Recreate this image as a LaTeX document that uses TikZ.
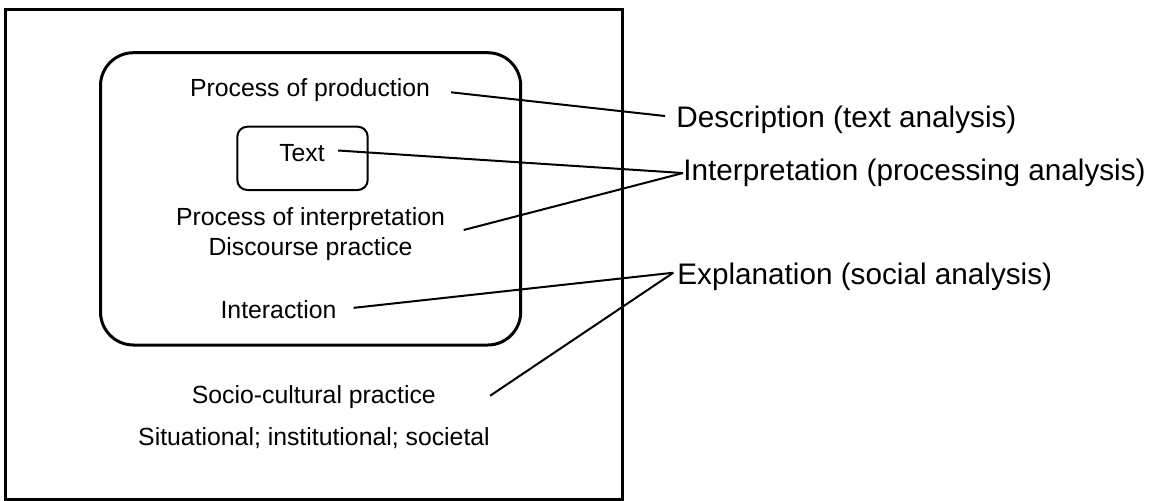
\documentclass[tikz,border=0pt]{standalone}
\usepackage{fontspec}
\setmainfont{Liberation Sans}
\usepackage{tikz}
\tikzstyle{caja} = [line width=1.5pt]
\tikzstyle{cajita} = [line width=1pt]
\tikzstyle{linea} = [line width=1pt]
\tikzstyle{texto} = [inner sep=0pt, anchor=base, font=\fontsize{12.4}{14.9}\selectfont]
\tikzstyle{nivel} = [inner sep=0pt, anchor=base west, font=\fontsize{14.85}{17.8}\selectfont]
\begin{document}
\begin{tikzpicture}[x=0.5pt,y=-0.5pt]
		\useasboundingbox (0,0) rectangle (1157,500);
		% marcos
		\draw[caja] (5.5,9) rectangle (622.5,499);
		\draw[caja,rounded corners=16.5pt] (100.5,52.7) rectangle (520.7,345);
		\draw[cajita,rounded corners=5pt] (237.3,126.7) rectangle (367.7,190);
		% textos de los marcos
		\node[texto] (prod) at (310,96.7) {Process of production};
		\node[texto] (txt) at (302,161.7) {Text};
		\node[texto] (procint) at (310.5,225) {Process of interpretation};
		\node[texto] (disc) at (310.5,255) {Discourse practice};
		\node[texto] (inter) at (278.5,318.3) {Interaction};
		\node[texto] (socio) at (313.8,403.3) {Socio-cultural practice};
		\node[texto] (situ) at (314,445) {Situational; institutional; societal};
		% niveles de analisis
		\foreach \Nom/\Xc/\Yc/\Texto in 
		{desc/676/127.3/Description (text analysis),
		 interp/683/180.7/Interpretation (processing analysis),
		 expl/677/284/Explanation (social analysis)}
		{
			\node[nivel] (\Nom) at (\Xc,\Yc) {\Texto};
		}
		% lineas
		\draw[linea] ([xshift=10.35pt,yshift=-1pt]prod.east) -- ([xshift=-5.5pt,yshift=1.8pt]desc.west);
		\draw[linea] ([xshift=6.5pt,yshift=1.4pt]txt.east) -- (interp.west);
		\draw[linea] ([xshift=9.2pt,yshift=-5.7pt]procint.east) -- (interp.west);
		\draw[linea] ([xshift=8.4pt,yshift=0.8pt]inter.east) -- ([xshift=-1.85pt,yshift=1.8pt]expl.west);
		\draw[linea] ([xshift=27pt,yshift=0.6pt]socio.east) -- ([xshift=-1.85pt,yshift=1.8pt]expl.west);
\end{tikzpicture}
\end{document}
